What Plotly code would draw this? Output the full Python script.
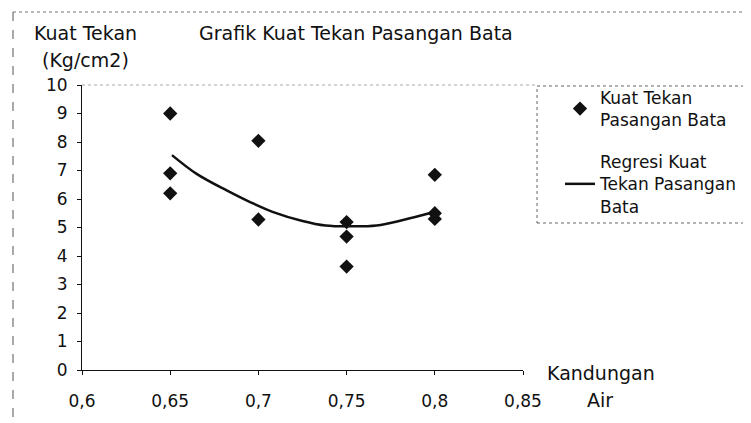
import plotly.graph_objects as go

# Observed data
kadar_air = [0.65, 0.65, 0.65, 0.70, 0.70, 0.75, 0.75, 0.75, 0.80, 0.80, 0.80]
kuat_tekan = [9.0, 6.9, 6.2, 8.04, 5.28, 5.19, 4.68, 3.63, 6.85, 5.5, 5.3]

# Regression curve
reg_x = [0.651, 0.665, 0.682, 0.695, 0.708, 0.725, 0.738, 0.752, 0.767, 0.782, 0.80]
reg_y = [7.54, 6.88, 6.3, 5.9, 5.55, 5.23, 5.07, 5.04, 5.07, 5.26, 5.55]

x_ticks = [0.6, 0.65, 0.7, 0.75, 0.8, 0.85]
x_ticklabels = ["0,6", "0,65", "0,7", "0,75", "0,8", "0,85"]
y_ticks = list(range(0, 11))

FONT = "DejaVu Sans, Verdana, sans-serif"
OFF = 8  # page body margin

# target page coordinates of plot area
PL, PR, PT, PB = 82, 523, 85, 370
W, H = 751 - OFF, 423 - OFF
L, T = PL - OFF, PT - OFF
R = W - (PR - OFF)
B = H - (PB - OFF)
pw, ph = PR - PL, PB - PT

def px(xp):
    return (xp - PL) / pw

def py(yp):
    return (PB - yp) / ph

fig = go.Figure()
fig.add_trace(go.Scatter(
    x=kadar_air, y=kuat_tekan, mode="markers",
    name="Kuat Tekan<br>Pasangan Bata",
    marker=dict(symbol="diamond", size=11, color="#111111"),
    legendgroup="a",
))
fig.add_trace(go.Scatter(
    x=reg_x, y=reg_y, mode="lines",
    name="Regresi Kuat<br>Tekan Pasangan<br>Bata",
    line=dict(color="#111111", width=2.5, shape="spline"),
    legendgroup="b",
))

def ann(text, x, y, size=19):
    return dict(text=text, xref="paper", yref="paper", x=px(x), y=py(y),
                xanchor="center", yanchor="middle", showarrow=False,
                font=dict(size=size))

fig.update_layout(
    width=W, height=H,
    margin=dict(l=L, r=R, t=T, b=B, autoexpand=False),
    paper_bgcolor="white", plot_bgcolor="white",
    font=dict(family=FONT, size=17, color="#111111"),
    showlegend=True,
    legend=dict(
        x=px(560), y=py(80), xanchor="left", yanchor="top",
        font=dict(family=FONT, size=17, color="#111111"),
        bgcolor="rgba(0,0,0,0)", tracegroupgap=17,
        itemwidth=30,
    ),
    xaxis=dict(
        range=[0.6, 0.85], tickvals=x_ticks, ticktext=x_ticklabels,
        showgrid=False, zeroline=False, showline=True, linecolor="#111111", linewidth=1,
        ticks="outside", ticklen=4, tickcolor="#111111",
        ticklabelstandoff=12, tickfont=dict(size=17),
    ),
    yaxis=dict(
        range=[0, 10], tickvals=y_ticks,
        showgrid=False, zeroline=False, showline=True, linecolor="#111111", linewidth=1,
        ticks="outside", ticklen=4, tickcolor="#111111",
        ticklabelstandoff=6, tickfont=dict(size=17),
    ),
    shapes=[
        dict(type="line", xref="paper", yref="paper", x0=px(13), x1=px(760), y0=py(12), y1=py(12),
             line=dict(color="#777777", width=1, dash="dot")),
        dict(type="line", xref="paper", yref="paper", x0=px(13), x1=px(13), y0=py(12), y1=py(430),
             line=dict(color="#555555", width=1, dash="dash")),
        dict(type="rect", xref="paper", yref="paper", x0=px(537), x1=px(770), y0=py(223), y1=py(86),
             line=dict(color="#666666", width=1, dash="dot")),
        dict(type="line", xref="paper", yref="paper", x0=0, x1=px(537), y0=1, y1=1,
             line=dict(color="#aaaaaa", width=1, dash="dot")),
    ],
    annotations=[
        ann("Grafik Kuat Tekan Pasangan Bata", 356, 33, 19),
        ann("Kuat Tekan", 85, 33),
        ann("(Kg/cm2)", 85, 60),
        ann("Kandungan", 601, 373),
        ann("Air", 600, 400),
    ],
)

fig.write_html("out.html")
